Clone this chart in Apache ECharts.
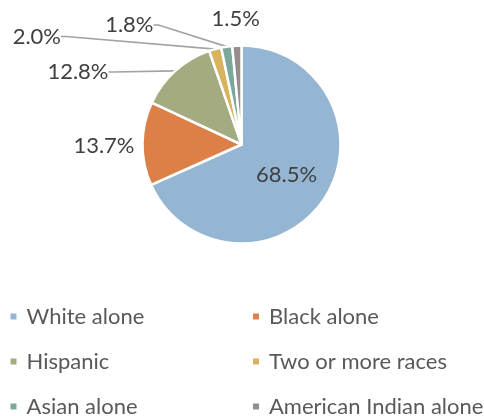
<!DOCTYPE html>
<html>
<head>
<meta charset="utf-8">
<script src="https://cdn.jsdelivr.net/npm/echarts@6/dist/echarts.min.js"></script>
<style>
  html, body { margin: 0; padding: 0; background: #fff; }
  #chart { width: 484px; height: 416px; }
</style>
</head>
<body>
<div id="chart"></div>
<script>
// Population share by race / ethnicity (percent)
const categories = ['White alone', 'Black alone', 'Hispanic', 'Two or more races', 'Asian alone', 'American Indian alone'];
const shares = [68.5, 13.7, 12.8, 2.0, 1.8, 1.5];

const palette = ['#94B6D2', '#DD8047', '#A5AB81', '#D8B25C', '#7BA79D', '#968C8C'];
const FONT = 'Lato';

// Where each outside label box is anchored (leader-line labels carry a bottom
// padding so the line meets them just under the text)
const labelSpots = {
  1: { x: 134.5, y: 146, align: 'right' },
  2: { x: 114, y: 72, align: 'right' },
  3: { x: 66.5, y: 36.5, align: 'right' },
  4: { x: 159, y: 25, align: 'right' },
  5: { x: 211.5, y: 19, align: 'left' }
};
const noLine = { 0: true, 1: true, 5: true };

const seriesData = categories.map((name, i) => {
  const item = { name, value: shares[i], itemStyle: { color: palette[i] } };
  if (i === 0) {
    item.label = { position: 'inside' };
  } else if (!noLine[i]) {
    item.label = { padding: [0, 5.5, 12, 0] };
  }
  if (noLine[i]) {
    item.labelLine = { show: false };
  }
  return item;
});

const legendText = { fontFamily: FONT, fontSize: 22, lineHeight: 20, color: '#595959', padding: [0, 0, 0, 4] };
const leftCol = [categories[0], categories[2], categories[4]];
const rightCol = [categories[1], categories[3], categories[5]];
const legendBase = {
  orient: 'vertical', top: 305.5, height: 160, padding: 0,
  icon: 'rect', itemWidth: 8, itemHeight: 8, itemGap: 23,
  textStyle: legendText, selectedMode: false
};

const chart = echarts.init(document.getElementById('chart'), null, { renderer: 'canvas' });
chart.setOption({
  backgroundColor: '#ffffff',
  animation: false,
  legend: [
    Object.assign({ data: leftCol, left: 8.5 }, legendBase),
    Object.assign({ data: rightCol, left: 251 }, legendBase)
  ],
  series: [{
    type: 'pie',
    center: [241.5, 144.5],
    radius: 99,
    startAngle: 90,
    clockwise: true,
    avoidLabelOverlap: false,
    itemStyle: { borderColor: '#ffffff', borderWidth: 2.5 },
    label: {
      show: true,
      position: 'outside',
      fontFamily: FONT,
      fontSize: 22,
      color: '#404040',
      formatter: p => p.value.toFixed(1) + '%'
    },
    labelLine: {
      show: true,
      length: 8,
      length2: 5,
      lineStyle: { color: '#A3A3A3', width: 1.7 }
    },
    labelLayout: params => {
      const spot = labelSpots[params.dataIndex];
      if (!spot) return { dx: 1, dy: 1.5 };
      return { x: spot.x, y: spot.y, align: spot.align, verticalAlign: 'middle' };
    },
    emphasis: { disabled: true },
    data: seriesData
  }]
});
</script>
</body>
</html>
